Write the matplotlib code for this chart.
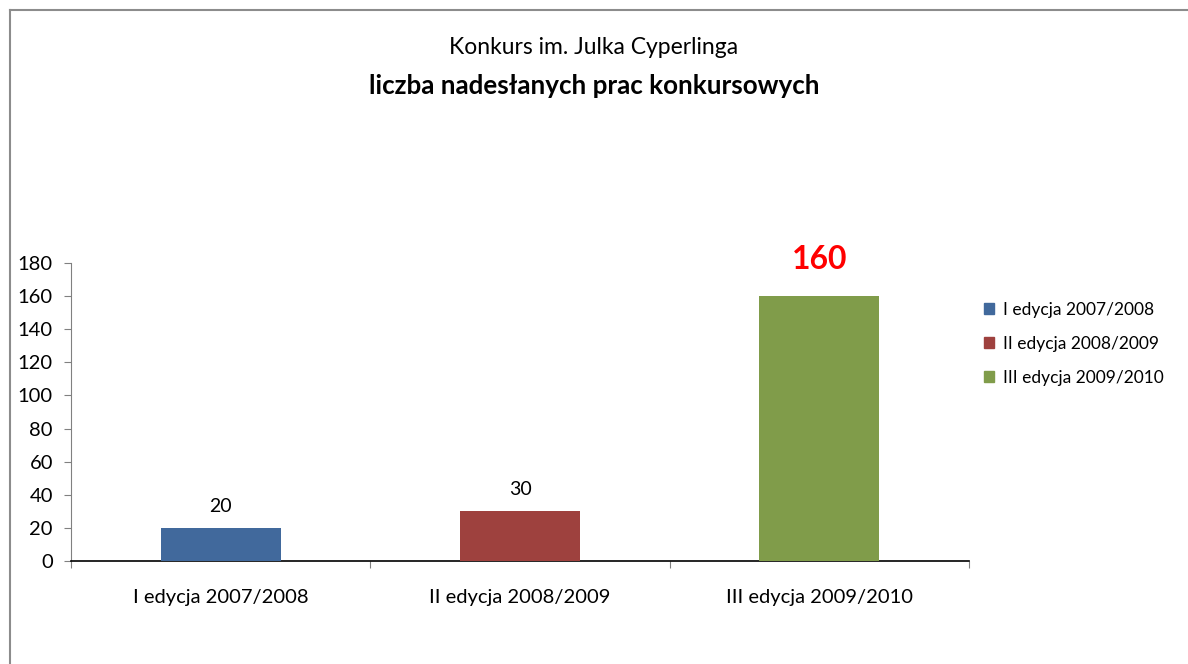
import matplotlib.pyplot as plt
from matplotlib.lines import Line2D

# data
categories = ["I edycja 2007/2008", "II edycja 2008/2009", "III edycja 2009/2010"]
values = [20, 30, 160]
colors = ["#41699C", "#9E413E", "#809C4A"]
y_ticks = [0, 20, 40, 60, 80, 100, 120, 140, 160, 180]

plt.rcParams["font.family"] = ["Lato", "DejaVu Sans"]

fig = plt.figure(figsize=(11.88, 6.64), dpi=100)
ax = fig.add_axes([71 / 1188, 1 - 561 / 664, 898 / 1188, 298 / 664])

x = list(range(len(categories)))
bars = ax.bar(x, values, width=0.4, color=colors, label=categories, zorder=3)

ax.set_xlim(-0.5, len(categories) - 0.5)
ax.set_ylim(0, 180)
ax.set_yticks(y_ticks)
ax.set_xticks(x)
ax.set_xticklabels(categories)
ax.set_xticks([i - 0.5 for i in range(len(categories) + 1)], minor=True)
ax.tick_params(axis="x", which="major", length=0, pad=20, labelsize=14.5)
ax.tick_params(axis="x", which="minor", length=5, width=0.8, color="#808080")
ax.tick_params(axis="y", length=5, width=0.8, color="#808080", labelsize=14.5, pad=8)

for side in ["top", "right"]:
    ax.spines[side].set_visible(False)
ax.spines["left"].set_color("#808080")
ax.spines["left"].set_linewidth(0.8)
ax.spines["bottom"].set_color("black")
ax.spines["bottom"].set_linewidth(1.2)

# value labels
for i, v in enumerate(values):
    if i == len(values) - 1:
        ax.text(i, v + 22, str(v), ha="center", va="center", color="red",
                fontsize=23, fontweight="bold")
    else:
        ax.text(i, v + 13, str(v), ha="center", va="center", fontsize=14)

# titles
fig.text(0.5, 1 - 47 / 664, "Konkurs im. Julka Cyperlinga", ha="center", va="center",
         fontsize=16.5)
fig.text(0.5, 1 - 86 / 664, "liczba nadesłanych prac konkursowych", ha="center",
         va="center", fontsize=18.7, fontweight="bold")

# legend
handles = [plt.Rectangle((0, 0), 1, 1, color=c) for c in colors]
fig.legend(handles, categories, loc="upper left", bbox_to_anchor=(968 / 1188, 1 - 286 / 664),
           frameon=False, fontsize=12.5, handlelength=0.6, handleheight=0.6,
           handletextpad=0.5, labelspacing=1.05)

# chart border
fig.add_artist(Line2D([10 / 1188, 1], [1 - 10 / 664, 1 - 10 / 664], color="#8C8C8C", lw=1.5))
fig.add_artist(Line2D([10 / 1188, 10 / 1188], [0, 1 - 10 / 664], color="#8C8C8C", lw=1.5))

fig.savefig("out.png", dpi=100)
